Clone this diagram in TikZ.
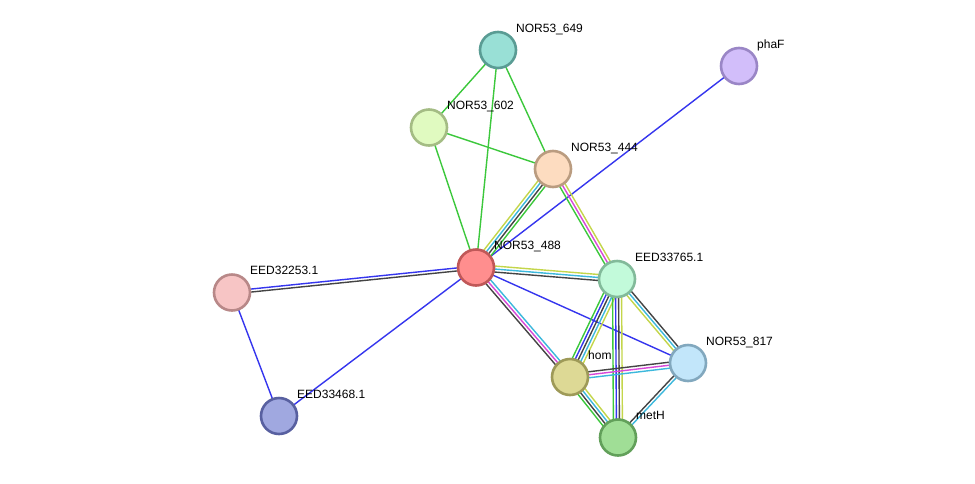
\documentclass[tikz,border=0pt]{standalone}
\usepackage{fontspec}
\setmainfont{Liberation Sans}
\usetikzlibrary{calc}
\pgfdeclarelayer{bg}
\pgfsetlayers{bg,main}
\definecolor{eGreen}{HTML}{3CC83C}
\definecolor{eBlue}{HTML}{3535EE}
\definecolor{eBlack}{HTML}{444444}
\definecolor{eCyan}{HTML}{3CB8DC}
\definecolor{eMag}{HTML}{D848D8}
\definecolor{eYel}{HTML}{C4D64A}
\definecolor{f649}{HTML}{99E0D6}\definecolor{d649}{HTML}{5A9C94}
\definecolor{fphaF}{HTML}{D2BEFA}\definecolor{dphaF}{HTML}{9A86C6}
\definecolor{f602}{HTML}{E0FAC0}\definecolor{d602}{HTML}{A4BC84}
\definecolor{f444}{HTML}{FDDCC0}\definecolor{d444}{HTML}{BA9C80}
\definecolor{f488}{HTML}{FF8E8E}\definecolor{d488}{HTML}{C05858}
\definecolor{f253}{HTML}{F7C5C5}\definecolor{d253}{HTML}{B88888}
\definecolor{f765}{HTML}{C2FADA}\definecolor{d765}{HTML}{82BA9A}
\definecolor{f817}{HTML}{C2E6FA}\definecolor{d817}{HTML}{82A8BE}
\definecolor{fhom}{HTML}{DDD995}\definecolor{dhom}{HTML}{9E9A58}
\definecolor{fmetH}{HTML}{A0DE96}\definecolor{dmetH}{HTML}{62A05A}
\definecolor{f468}{HTML}{A0A8E0}\definecolor{d468}{HTML}{5860A0}
\tikzset{
  prot/.style={circle, minimum size=36pt, inner sep=0pt, line width=2.6pt},
  edge/.style={line width=1.4pt},
  lab/.style={anchor=base west, inner sep=0pt, font=\fontsize{12}{14}\selectfont},
}
\newcommand\medge[3]{\foreach \cc/\oo in {#3}{\draw[edge,\cc] ($(#1.center)!\oo pt!90:(#2.center)$) -- ($(#2.center)!\oo pt!-90:(#1.center)$);}}
\newcommand\protnode[4]{\node[prot, fill=f#4, draw=d#4] (#1) at (#2) {}; \node[lab] (#1l) at ($(#2)+(18,-18)$) {#3};}
\begin{document}
\begin{tikzpicture}[x=1pt,y=-1pt]
\useasboundingbox (0,0) rectangle (975,483);
\protnode{n649}{498,50}{NOR53\_649}{649}
\protnode{nphaF}{739,66}{phaF}{phaF}
\protnode{n602}{429,127.5}{NOR53\_602}{602}
\protnode{n444}{553,169}{NOR53\_444}{444}
\protnode{n488}{476,267.5}{NOR53\_488}{488}
\protnode{n253}{232,292.5}{EED32253.1}{253}
\protnode{n765}{617,279}{EED33765.1}{765}
\protnode{n817}{688,363}{NOR53\_817}{817}
\protnode{nhom}{570,377}{hom}{hom}
\protnode{nmetH}{618,437.5}{metH}{metH}
\protnode{n468}{279,416}{EED33468.1}{468}
\begin{pgfonlayer}{bg}
\fill[white] (0,0) rectangle (975,483);
\medge{n649}{n602}{eGreen/0}
\medge{n649}{n488}{eGreen/0}
\medge{n649}{n444}{eGreen/0}
\medge{n602}{n444}{eGreen/0}
\medge{n602}{n488}{eGreen/0}
\medge{nphaF}{n488}{eBlue/0}
\medge{n488}{n444}{eYel/4.5,eCyan/1.5,eBlack/-1.5,eGreen/-4.5}
\medge{n444}{n765}{eYel/3,eMag/0,eGreen/-3}
\medge{n488}{n253}{eBlue/-1.5,eBlack/1.5}
\medge{n488}{n468}{eBlue/0}
\medge{n488}{n765}{eYel/3,eCyan/0,eBlack/-3}
\medge{n488}{n817}{eBlue/0}
\medge{n488}{nhom}{eCyan/3,eMag/0,eBlack/-3}
\medge{n765}{nhom}{eGreen/-6,eBlue/-3,eBlack/0,eCyan/3,eYel/6}
\medge{n765}{nmetH}{eGreen/-4.5,eBlue/-1.5,eBlack/1.5,eYel/4.5}
\medge{n765}{n817}{eBlack/3,eCyan/0,eYel/-3}
\medge{nhom}{n817}{eBlack/3,eMag/0,eCyan/-3}
\medge{nhom}{nmetH}{eYel/4.5,eCyan/1.5,eBlack/-1.5,eGreen/-4.5}
\medge{n817}{nmetH}{eBlack/-1.5,eCyan/1.5}
\medge{n253}{n468}{eBlue/0}
\end{pgfonlayer}
\end{tikzpicture}
\end{document}
